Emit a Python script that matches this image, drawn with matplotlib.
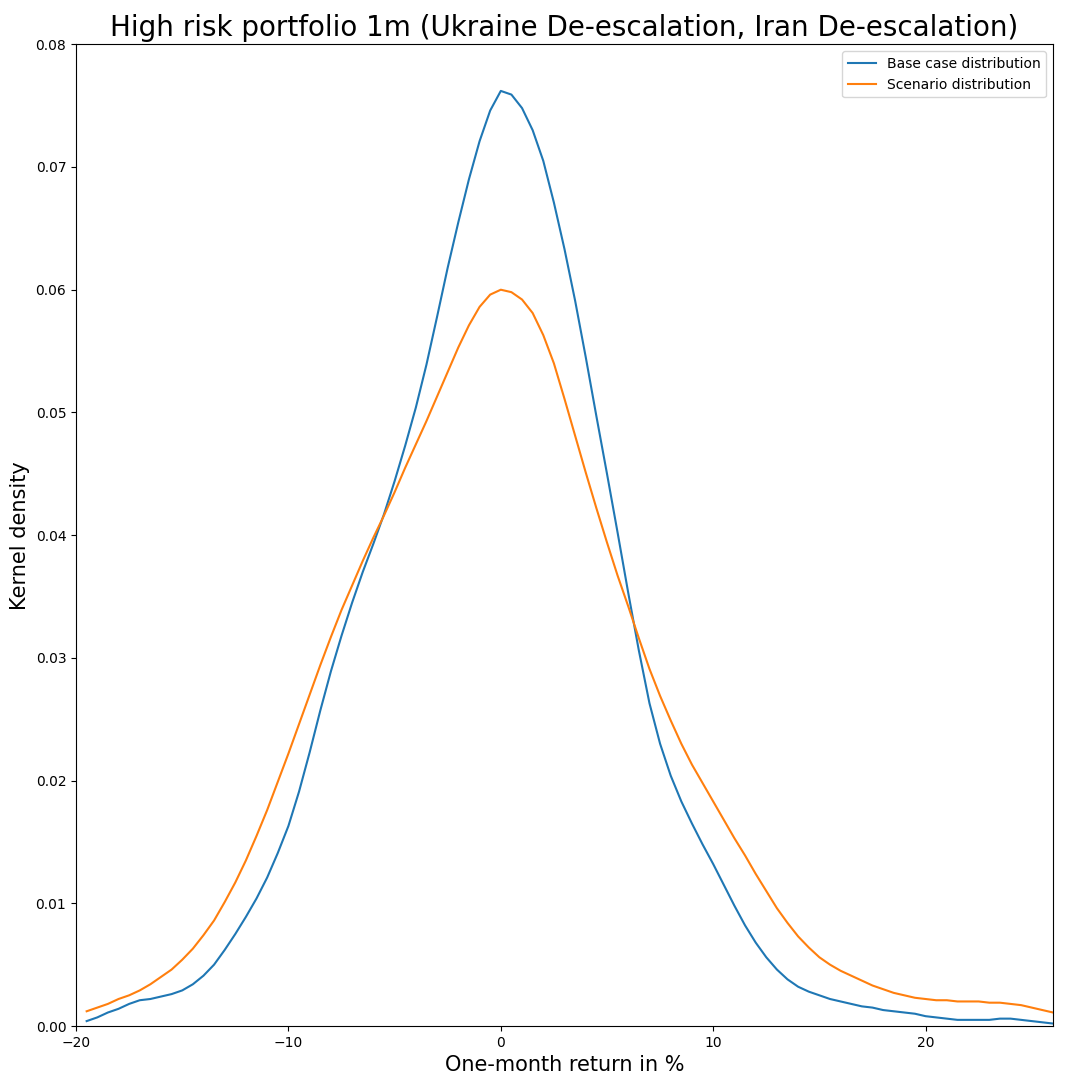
import numpy as np
import matplotlib
matplotlib.use('Agg')
import matplotlib.pyplot as plt

# ─── Data ─────────────────────────────────────────────────────────────────────

returns_pct = [-19.5, -19, -18.5, -18, -17.5, -17, -16.5, -16, -15.5, -15,
               -14.5, -14, -13.5, -13, -12.5, -12, -11.5, -11, -10.5, -10,
               -9.5, -9, -8.5, -8, -7.5, -7, -6.5, -6, -5.5, -5,
               -4.5, -4, -3.5, -3, -2.5, -2, -1.5, -1, -0.5, 0,
               0.5, 1, 1.5, 2, 2.5, 3, 3.5, 4, 4.5, 5,
               5.5, 6, 6.5, 7, 7.5, 8, 8.5, 9, 9.5, 10,
               10.5, 11, 11.5, 12, 12.5, 13, 13.5, 14, 14.5, 15,
               15.5, 16, 16.5, 17, 17.5, 18, 18.5, 19, 19.5, 20,
               20.5, 21, 21.5, 22, 22.5, 23, 23.5, 24, 24.5, 25,
               25.5, 26]

density_base = [0.0004, 0.0007, 0.0011, 0.0014, 0.0018, 0.0021, 0.0022, 0.0024, 0.0026, 0.0029,
                0.0034, 0.0041, 0.0050, 0.0062, 0.0075, 0.0089, 0.0104, 0.0121, 0.0141, 0.0163,
                0.0191, 0.0223, 0.0257, 0.0289, 0.0318, 0.0345, 0.0370, 0.0393, 0.0417, 0.0444,
                0.0473, 0.0504, 0.0539, 0.0578, 0.0618, 0.0655, 0.0690, 0.0721, 0.0746, 0.0762,
                0.0759, 0.0748, 0.0730, 0.0705, 0.0671, 0.0633, 0.0591, 0.0545, 0.0497, 0.0450,
                0.0402, 0.0353, 0.0306, 0.0263, 0.0230, 0.0204, 0.0183, 0.0165, 0.0148, 0.0132,
                0.0115, 0.0098, 0.0082, 0.0068, 0.0056, 0.0046, 0.0038, 0.0032, 0.0028, 0.0025,
                0.0022, 0.0020, 0.0018, 0.0016, 0.0015, 0.0013, 0.0012, 0.0011, 0.0010, 0.0008,
                0.0007, 0.0006, 0.0005, 0.0005, 0.0005, 0.0005, 0.0006, 0.0006, 0.0005, 0.0004,
                0.0003, 0.0002]

density_scen = [0.0012, 0.0015, 0.0018, 0.0022, 0.0025, 0.0029, 0.0034, 0.0040, 0.0046, 0.0054,
                0.0063, 0.0074, 0.0086, 0.0101, 0.0117, 0.0135, 0.0155, 0.0176, 0.0199, 0.0222,
                0.0246, 0.0270, 0.0294, 0.0317, 0.0339, 0.0359, 0.0379, 0.0398, 0.0416, 0.0435,
                0.0455, 0.0474, 0.0493, 0.0513, 0.0533, 0.0553, 0.0571, 0.0586, 0.0596, 0.0600,
                0.0598, 0.0592, 0.0581, 0.0563, 0.0540, 0.0511, 0.0481, 0.0451, 0.0422, 0.0394,
                0.0367, 0.0342, 0.0316, 0.0291, 0.0269, 0.0249, 0.0230, 0.0213, 0.0198, 0.0183,
                0.0168, 0.0153, 0.0139, 0.0124, 0.0110, 0.0096, 0.0084, 0.0073, 0.0064, 0.0056,
                0.0050, 0.0045, 0.0041, 0.0037, 0.0033, 0.0030, 0.0027, 0.0025, 0.0023, 0.0022,
                0.0021, 0.0021, 0.0020, 0.0020, 0.0020, 0.0019, 0.0019, 0.0018, 0.0017, 0.0015,
                0.0013, 0.0011]

# ─── Figure ───────────────────────────────────────────────────────────────────

fig = plt.figure(figsize=(10.8, 10.8), dpi=100)
ax = fig.add_axes([0.0704, 0.05, 0.9046, 0.909])

ax.plot(returns_pct, density_base, color='#1f77b4', linewidth=1.5,
        solid_joinstyle='round', label='Base case distribution')
ax.plot(returns_pct, density_scen, color='#ff7f0e', linewidth=1.5,
        solid_joinstyle='round', label='Scenario distribution')

ax.set_xlim(-20, 26)
ax.set_ylim(0, 0.08)
ax.set_xticks([-20, -10, 0, 10, 20])
ax.set_xlabel('One-month return in %', fontsize=15)
ax.set_ylabel('Kernel density', fontsize=15)
ax.set_title('High risk portfolio 1m (Ukraine De-escalation, Iran De-escalation)',
             fontsize=20)
ax.legend(loc='upper right', fontsize=10)

plt.savefig('out.png', dpi=100)
